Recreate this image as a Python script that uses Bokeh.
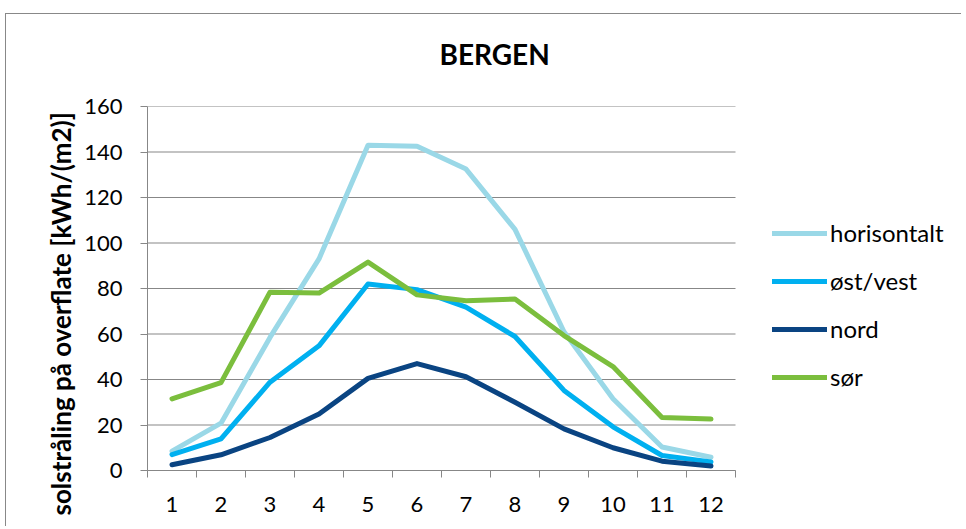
from bokeh.plotting import figure
from bokeh.models import FixedTicker, Legend, LegendItem, Title, Range1d
from bokeh.embed import file_html
from bokeh.resources import INLINE

months = list(range(1, 13))
month_labels = [str(m) for m in months]
horisontalt = [8.5, 20.8, 58.5, 93.0, 143.0, 142.5, 132.5, 106.0, 61.0, 31.5, 10.3, 5.8]
ost_vest = [7.0, 13.9, 38.8, 54.8, 82.0, 79.5, 71.8, 58.9, 35.2, 19.2, 6.6, 3.8]
nord = [2.5, 6.9, 14.5, 24.8, 40.5, 47.0, 41.2, 30.0, 18.3, 10.0, 4.1, 2.0]
sor = [31.5, 38.6, 78.4, 78.0, 91.6, 77.2, 74.6, 75.4, 59.3, 45.7, 23.3, 22.6]
y_ticks = [0, 20, 40, 60, 80, 100, 120, 140, 160]

series_names = ["horisontalt", "øst/vest", "nord", "sør"]
series_values = [horisontalt, ost_vest, nord, sor]
series_colors = ["#9AD8E7", "#00B0F0", "#0A4482", "#7BBE3D"]

FONT = "Lato"
GRID = "#878787"

# the plot area of the months is 588 px wide; the frame is widened to hold the legend
PLOT_W = 588
FRAME_W = 814
x_start = months[0] - 0.5
x_cat_end = months[-1] + 0.5
x_end = x_start + (x_cat_end - x_start) * FRAME_W / PLOT_W

p = figure(frame_width=FRAME_W, frame_height=364, output_backend="svg", toolbar_location=None,
           x_range=Range1d(x_start, x_end), y_range=Range1d(0, 160),
           min_border_left=141, min_border_right=0, min_border_top=92, min_border_bottom=56,
           title=None)
p.styles = {"margin-left": "5px", "margin-top": "13px",
            "border-left": "1px solid #888888", "border-top": "1px solid #888888"}
p.outline_line_color = None
p.background_fill_color = "white"
p.border_fill_color = "white"

# horizontal gridlines limited to the months area
p.segment(x0=[x_start] * len(y_ticks), x1=[x_cat_end] * len(y_ticks), y0=y_ticks, y1=y_ticks,
          line_color=GRID, line_width=1)

items = []
for name, vals, col in zip(series_names, series_values, series_colors):
    r = p.line(months, vals, line_color=col, line_width=5, line_join="round", line_cap="round")
    items.append(LegendItem(label=name, renderers=[r]))

# x axis
xa = p.xaxis[0]
xa.bounds = (x_start, x_cat_end)
xa.ticker = FixedTicker(ticks=months, minor_ticks=[m - 0.5 for m in months] + [x_cat_end])
xa.major_label_overrides = {m: lbl for m, lbl in zip(months, month_labels)}
xa.major_tick_line_color = None
xa.major_tick_out = 0
xa.major_tick_in = 0
xa.minor_tick_line_color = GRID
xa.minor_tick_out = 7
xa.minor_tick_in = 0
xa.axis_line_color = GRID
xa.major_label_standoff = 19
xa.major_label_text_font = FONT
xa.major_label_text_font_size = "22px"
xa.major_label_text_color = "black"

ya = p.yaxis[0]
ya.ticker = FixedTicker(ticks=y_ticks)
ya.major_tick_line_color = GRID
ya.major_tick_out = 7
ya.major_tick_in = 0
ya.minor_tick_line_color = None
ya.axis_line_color = GRID
ya.major_label_standoff = 18
ya.major_label_text_font = FONT
ya.major_label_text_font_size = "22px"
ya.major_label_text_color = "black"

p.xgrid.grid_line_color = None
p.ygrid.grid_line_color = None

legend = Legend(items=items, location=(625, 79), orientation="vertical")
legend.glyph_width = 55
legend.glyph_height = 24
legend.label_height = 24
legend.spacing = 19
legend.padding = 0
legend.margin = 0
legend.label_standoff = 3
legend.border_line_color = None
legend.background_fill_alpha = 0
legend.label_text_font = FONT
legend.label_text_font_size = "24px"
legend.label_text_color = "black"
p.add_layout(legend)

title_spacer = Title(text=" ", text_font_size="2px", standoff=32)
p.add_layout(title_spacer, "above")
title = Title(text="BERGEN", align="left", offset=292, standoff=0,
              text_font=FONT, text_font_size="28px", text_font_style="bold", text_color="black")
p.add_layout(title, "above")

ylab = Title(text="solstråling på overflate [kWh/(m2)]", align="left", offset=-45, standoff=10,
             text_font=FONT, text_font_size="26px", text_font_style="bold", text_color="black")
p.add_layout(ylab, "left")

open("out.html", "w").write(file_html(p, INLINE))
